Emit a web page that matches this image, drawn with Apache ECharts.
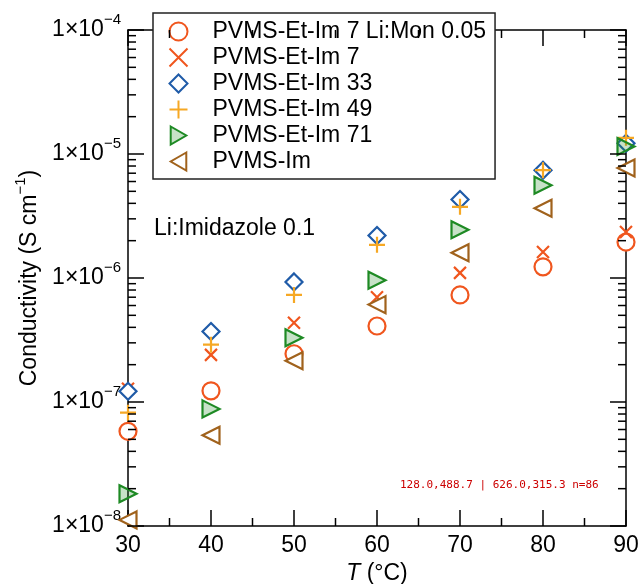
<!DOCTYPE html>
<html><head><meta charset="utf-8">
<script src="https://cdn.jsdelivr.net/npm/echarts@6/dist/echarts.min.js"></script>
<style>html,body{margin:0;padding:0;background:#fff}#c{width:642px;height:584px}</style>
</head><body><div id="c"></div>
<script>
// ---- data ----
const temperatures = [30, 40, 50, 60, 70, 80, 90];
const seriesNames = ['PVMS-Et-Im 7 Li:Mon 0.05', 'PVMS-Et-Im 7', 'PVMS-Et-Im 33', 'PVMS-Et-Im 49', 'PVMS-Et-Im 71', 'PVMS-Im'];
const etIm7LiMon = [5.8e-8, 1.23e-7, 2.45e-7, 4.1e-7, 7.3e-7, 1.23e-6, 1.95e-6];
const etIm7      = [1.28e-7, 2.4e-7, 4.35e-7, 7.0e-7, 1.1e-6, 1.62e-6, 2.35e-6];
const etIm33     = [1.22e-7, 3.7e-7, 9.3e-7, 2.2e-6, 4.3e-6, 7.4e-6, 1.22e-5];
const etIm49     = [8.2e-8, 2.9e-7, 7.3e-7, 1.85e-6, 3.75e-6, 7.4e-6, 1.35e-5];
const etIm71     = [1.82e-8, 8.8e-8, 3.3e-7, 9.6e-7, 2.45e-6, 5.6e-6, 1.15e-5];
const pvmsIm     = [1.12e-8, 5.4e-8, 2.15e-7, 6.1e-7, 1.6e-6, 3.65e-6, 7.7e-6];
const xMin = 30, xMax = 90, xInterval = 10;
const xMinorTicks = [35, 45, 55, 65, 75, 85];
const yMin = 1e-8, yMax = 1e-4;
const yMajorTicks = [1e-8, 1e-7, 1e-6, 1e-5, 1e-4];
const yMinorTicks = [2e-8,3e-8,4e-8,5e-8,6e-8,7e-8,8e-8,9e-8,
  2e-7,3e-7,4e-7,5e-7,6e-7,7e-7,8e-7,9e-7,
  2e-6,3e-6,4e-6,5e-6,6e-6,7e-6,8e-6,9e-6,
  2e-5,3e-5,4e-5,5e-5,6e-5,7e-5,8e-5,9e-5];
const annotation = 'Li:Imidazole 0.1';

// ---- styles ----
const FONT = 'Liberation Sans, Arial, Helvetica, sans-serif';
const RED = '#F0561E', BLUE = '#1F5BA8', YEL = '#F6A824', GREEN = '#1E8A24', BROWN = '#A0621C';
const styles = [
  {symbol: 'circle', size: 17, color: RED, fill: '#fff'},
  {symbol: 'path://M0,0L10,10M10,0L0,10', size: 12, color: RED, fill: 'none'},
  {symbol: 'path://M5,0L10,5L5,10L0,5Z', size: 17, color: BLUE, fill: '#fff'},
  {symbol: 'path://M5,0L5,10M0,5L10,5', size: 16, color: YEL, fill: 'none'},
  {symbol: 'path://M0,0L10,5.77L0,11.55Z', size: 17, color: GREEN, fill: 'rgba(30,138,36,0.25)'},
  {symbol: 'path://M10,0L0,5.77L10,11.55Z', size: 17, color: BROWN, fill: '#fff'}
];
const values = [etIm7LiMon, etIm7, etIm33, etIm49, etIm71, pvmsIm];

const chart = echarts.init(document.getElementById('c'), null, {renderer: 'canvas'});
const axisLineStyle = {color: '#000', width: 1.5};
const tickStyle = {color: '#000', width: 1.5};

const scatterSeries = values.map((vals, i) => ({
  name: seriesNames[i],
  type: 'scatter',
  data: temperatures.map((t, j) => [t, vals[j]]),
  symbol: styles[i].symbol,
  symbolSize: styles[i].size,
  itemStyle: {color: styles[i].fill, borderColor: styles[i].color, borderWidth: 2.2, opacity: 1},
  z: 3 + i
}));

chart.setOption({
  animation: false,
  backgroundColor: '#fff',
  textStyle: {fontFamily: FONT},
  grid: {left: 128, right: 16, top: 30, bottom: 58, outerBoundsMode: 'none'},
  xAxis: [{
    type: 'value', min: xMin, max: xMax, interval: xInterval, position: 'bottom',
    axisLine: {show: true, lineStyle: axisLineStyle},
    axisTick: {show: true, inside: true, length: 16, lineStyle: tickStyle},
    splitLine: {show: false},
    axisLabel: {color: '#000', fontSize: 23, margin: 8, fontFamily: FONT},
    name: '{i|T} (°C)', nameLocation: 'middle', nameGap: 36,
    nameTextStyle: {color: '#000', fontSize: 23, fontFamily: FONT, rich: {i: {fontStyle: 'italic', fontSize: 23, fontFamily: FONT}}}
  }, {
    type: 'value', min: xMin, max: xMax, interval: xInterval, position: 'top',
    axisLine: {show: true, lineStyle: axisLineStyle},
    axisTick: {show: true, inside: true, length: 16, lineStyle: tickStyle},
    splitLine: {show: false}, axisLabel: {show: false}
  }],
  yAxis: [{
    type: 'log', logBase: 10, min: yMin, max: yMax, position: 'left',
    axisLine: {show: true, lineStyle: axisLineStyle},
    axisTick: {show: false},
    splitLine: {show: false},
    axisLabel: {
      color: '#000', margin: 7, fontFamily: FONT,
      formatter: v => '{a|1×10}{b|−' + (-Math.round(Math.log10(v))) + '}',
      rich: {a: {fontSize: 23, fontFamily: FONT, color: '#000'},
             b: {fontSize: 15, fontFamily: FONT, color: '#000', padding: [0, 0, 20, 0]}}
    },
    name: 'Conductivity (S cm{s|−1})', nameLocation: 'middle', nameGap: 77,
    nameTextStyle: {color: '#000', fontSize: 23, fontFamily: FONT,
      rich: {s: {fontSize: 15, fontFamily: FONT, color: '#000', padding: [0, 0, 18, 0]}}}
  }, {
    type: 'log', logBase: 10, min: yMin, max: yMax, position: 'right',
    axisLine: {show: true, lineStyle: axisLineStyle},
    axisTick: {show: false},
    splitLine: {show: false}, axisLabel: {show: false}
  }],
  legend: {
    data: seriesNames,
    orient: 'vertical', left: 153, top: 13,
    backgroundColor: '#fff', borderColor: '#222', borderWidth: 1.5, borderRadius: 0,
    padding: [7, 9, 6, 14], itemGap: 3, itemWidth: 18, itemHeight: 18,
    textStyle: {color: '#000', fontSize: 23, fontFamily: FONT, padding: [0, 0, 0, 20]},
    z: 20
  },
  series: scatterSeries
});

// Axis tick marks placed through the chart's own scales
const tickEls = [];
const addRect = (x, y, w, h) => tickEls.push({
  type: 'rect', silent: true, z: 50,
  shape: {x: x, y: y, width: w, height: h}, style: {fill: '#000'}
});
const toPx = (x, y) => chart.convertToPixel({xAxisIndex: 0, yAxisIndex: 0}, [x, y]);
yMajorTicks.forEach(v => {
  const l = toPx(xMin, v), r = toPx(xMax, v);
  addRect(l[0], l[1] - 0.75, 16, 1.5);
  addRect(r[0] - 16, r[1] - 0.75, 16, 1.5);
});
yMinorTicks.forEach(v => {
  const l = toPx(xMin, v), r = toPx(xMax, v);
  addRect(l[0], l[1] - 0.75, 8, 1.5);
  addRect(r[0] - 8, r[1] - 0.75, 8, 1.5);
});
xMinorTicks.forEach(t => {
  const b = toPx(t, yMin), tp = toPx(t, yMax);
  addRect(b[0] - 0.75, b[1] - 8, 1.5, 8);
  addRect(tp[0] - 0.75, tp[1], 1.5, 8);
});
const dbg = toPx(xMin, 2e-8).map(n => n.toFixed(1)).join(',') + ' | ' + toPx(xMax, 5e-7).map(n => n.toFixed(1)).join(',') + ' n=' + tickEls.length;
chart.setOption({
  graphic: [{
    type: 'text', left: 154, top: 217, z: 10,
    style: {text: annotation, fill: '#000', font: '23px ' + FONT}
  }, {
    type: 'text', left: 400, top: 480, z: 60,
    style: {text: dbg, fill: '#c00', font: '11px monospace'}
  }].concat(tickEls)
});
</script>
</body></html>
